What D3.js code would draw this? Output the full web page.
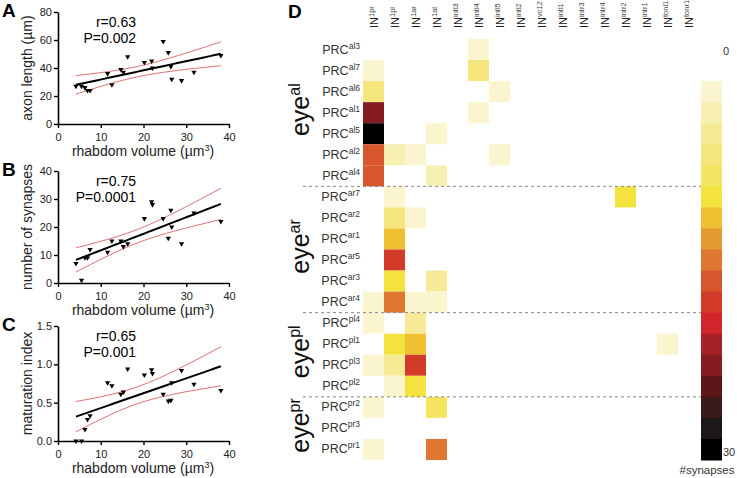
<!DOCTYPE html>
<html>
<head>
<meta charset="utf-8">
<title></title>
<script src="https://cdnjs.cloudflare.com/ajax/libs/d3/7.8.5/d3.min.js"></script>
<style>
body { margin: 0; background: #fff; }
svg { font-family: "Liberation Sans", Arial, Helvetica, sans-serif; }
</style>
</head>
<body>
<div id="chart"></div>
<script>
// rhabdom volume of each PRC (um3), same x for panels A-C
var volume       = [4.2, 5.5, 6.3, 6.9, 7.5, 11.6, 12.6, 14.7, 15.3, 16.3, 20.2, 21.9, 22.1, 24.6, 25.8, 26.4, 26.6, 28.9, 31.8, 38.1];
var axonLength   = [27, 27, 26, 24, 24, 36, 28, 39, 37, 48, 44, 45, 40, 59, 51, 41, 32, 31, 37, 49];
var synapseCount = [7, 1, 9, 9, 12, 11, 15, 15, 13, 14, 23, 29, 28, 23, 16, 26, 20, 14, 25, 22];
var maturation   = [0.0, 0.0, 0.15, 0.28, 0.33, 0.76, 0.72, 0.61, 0.64, 0.94, 0.86, 0.93, 0.88, 0.61, 0.52, 0.53, 0.76, 0.92, 0.74, 0.66];

var volumeTicks     = [0, 10, 20, 30, 40];
var axonTicks       = [0, 20, 40, 60, 80];
var synapseTicks    = [0, 10, 20, 30, 40];
var maturationTicks = [0, 0.5, 1.0, 1.5];

var panelLetters = ["A", "B", "C"];
var yTitles      = ["axon length (\u00b5m)", "number of synapses", "maturation index"];
var rLabels      = ["r=0.63", "r=0.75", "r=0.65"];
var pLabels      = ["P=0.002", "P=0.0001", "P=0.001"];

// panel D
var eyeGroups = ["al", "ar", "pl", "pr"];
var prcRows = ["al3", "al7", "al6", "al1", "al5", "al2", "al4",
               "ar7", "ar2", "ar1", "ar5", "ar3", "ar4",
               "pl4", "pl1", "pl3", "pl2",
               "pr2", "pr3", "pr1"];
var inColumns = ["1pr", "1pl", "1ar", "1al", "intl3", "intl4", "intl5", "intl2",
                 "vc12", "intl1", "intr3", "intr4", "intr2", "intr1", "tonl1", "tonr1"];
// synapses PRC (row) -> IN (column)
var synapses = [
  [ 0, 0, 0, 0, 0, 2, 0, 0, 0, 0, 0, 0, 0, 0, 0, 0],
  [ 1, 0, 0, 0, 0, 7, 0, 0, 0, 0, 0, 0, 0, 0, 0, 0],
  [ 7, 0, 0, 0, 0, 0, 1, 0, 0, 0, 0, 0, 0, 0, 0, 0],
  [23, 0, 0, 0, 0, 1, 0, 0, 0, 0, 0, 0, 0, 0, 0, 0],
  [30, 0, 0, 1, 0, 0, 0, 0, 0, 0, 0, 0, 0, 0, 0, 0],
  [16, 3, 1, 0, 0, 0, 1, 0, 0, 0, 0, 0, 0, 0, 0, 0],
  [16, 0, 0, 3, 0, 0, 0, 0, 0, 0, 0, 0, 0, 0, 0, 0],
  [ 0, 1, 0, 0, 0, 0, 0, 0, 0, 0, 0, 0, 9, 0, 0, 0],
  [ 0, 7, 2, 0, 0, 0, 0, 0, 0, 0, 0, 0, 0, 0, 0, 0],
  [ 0,11, 0, 0, 0, 0, 0, 0, 0, 0, 0, 0, 0, 0, 0, 0],
  [ 0,17, 0, 0, 0, 0, 0, 0, 0, 0, 0, 0, 0, 0, 0, 0],
  [ 0,10, 0, 4, 0, 0, 0, 0, 0, 0, 0, 0, 0, 0, 0, 0],
  [ 1,14, 1, 1, 0, 0, 0, 0, 0, 0, 0, 0, 0, 0, 0, 0],
  [ 1, 0, 4, 0, 0, 0, 0, 0, 0, 0, 0, 0, 0, 0, 0, 0],
  [ 0,10,11, 0, 0, 0, 0, 0, 0, 0, 0, 0, 0, 0, 1, 0],
  [ 1, 4,17, 0, 0, 0, 0, 0, 0, 0, 0, 0, 0, 0, 0, 0],
  [ 0, 2,10, 0, 0, 0, 0, 0, 0, 0, 0, 0, 0, 0, 0, 0],
  [ 1, 0, 0, 8, 0, 0, 0, 0, 0, 0, 0, 0, 0, 0, 0, 0],
  [ 0, 0, 0, 0, 0, 0, 0, 0, 0, 0, 0, 0, 0, 0, 0, 0],
  [ 2, 0, 0,14, 0, 0, 0, 0, 0, 0, 0, 0, 0, 0, 0, 0]
];
var colorSteps = ["#fbf5cf", "#f8efb2", "#f6ea97", "#f4e67c", "#f3e462", "#f4e33e",
                  "#efc132", "#e49a30", "#df7730", "#d8562c", "#d23b2a", "#ce262a",
                  "#a72228", "#841c21", "#5d1518", "#3b1a1a", "#1e1717", "#000000"];
var colorLabels = ["0", "30"];

var svg = d3.select("#chart").append("svg")
            .attr("width", 737)
            .attr("height", 478);

var xScale = d3.scaleLinear().domain([0, 40]).range([58, 229]);

var panels = [
  {values: axonLength,   ticks: axonTicks,       fmt: d3.format("d"),   top: 12,  bottom: 124},
  {values: synapseCount, ticks: synapseTicks,    fmt: d3.format("d"),   top: 171, bottom: 283},
  {values: maturation,   ticks: maturationTicks, fmt: d3.format(".1f"), top: 326, bottom: 441}
];

// least squares line with 95% confidence band
function fitLine(xs, ys) {
  var n = xs.length, mx = d3.mean(xs), my = d3.mean(ys);
  var sxx = d3.sum(xs, (x) => (x - mx) * (x - mx));
  var sxy = d3.sum(xs, (x, i) => (x - mx) * (ys[i] - my));
  var b = sxy / sxx, a = my - b * mx;
  var s = Math.sqrt(d3.sum(xs, (x, i) => Math.pow(ys[i] - (a + b * x), 2)) / (n - 2));
  var t = 2.101;
  var lo = d3.min(xs), hi = d3.max(xs);
  return d3.range(41).map((k) => {
    var x = lo + (hi - lo) * k / 40;
    var yh = a + b * x;
    var h = t * s * Math.sqrt(1 / n + (x - mx) * (x - mx) / sxx);
    return {x: x, y: yh, lo: yh - h, hi: yh + h};
  });
}

panels.forEach((p, k) => {
  var yScale = d3.scaleLinear()
                 .domain([p.ticks[0], p.ticks[p.ticks.length - 1]])
                 .range([p.bottom, p.top]);
  var g = svg.append("g");

  var fit = fitLine(volume, p.values);
  var band = (key) => d3.line().x((d) => xScale(d.x)).y((d) => yScale(d[key]));
  ["lo", "hi"].forEach((key) => {
    g.append("path")
     .attr("d", band(key)(fit))
     .attr("fill", "none")
     .attr("stroke", "#de6f6f")
     .attr("stroke-width", 1);
  });
  g.append("path")
   .attr("d", band("y")(fit))
   .attr("fill", "none")
   .attr("stroke", "#000")
   .attr("stroke-width", 2);

  g.selectAll(".pt")
   .data(p.values)
   .enter().append("path")
   .attr("d", d3.symbol().type(d3.symbolTriangle).size(12))
   .attr("transform", (d, i) => "translate(" + xScale(volume[i]) + "," + yScale(d) + ") rotate(180)")
   .attr("fill", "#000");

  var yAxis = g.append("g")
               .attr("transform", "translate(58,0)")
               .call(d3.axisLeft(yScale).tickValues(p.ticks).tickFormat(p.fmt)
                       .tickSize(4).tickSizeOuter(0).tickPadding(2));
  var xAxis = g.append("g")
               .attr("transform", "translate(0," + p.bottom + ")")
               .call(d3.axisBottom(xScale).tickValues(volumeTicks)
                       .tickSize(4).tickSizeOuter(0).tickPadding(5));
  [yAxis, xAxis].forEach((ax) => {
    ax.select(".domain").attr("stroke-width", 1.6);
    ax.selectAll(".tick line").attr("stroke-width", 1.4);
    ax.selectAll("text").attr("font-size", "11px").attr("fill", "#222")
      .attr("font-family", "Liberation Sans, Arial, sans-serif");
  });

  var xt = g.append("text")
            .attr("x", 143)
            .attr("y", p.bottom + 32)
            .attr("text-anchor", "middle")
            .attr("font-size", "14px")
            .attr("fill", "#222")
            .text("rhabdom volume (\u00b5m");
  xt.append("tspan").attr("dy", -5).attr("font-size", "9px").text("3");
  xt.append("tspan").attr("dy", 5).text(")");

  g.append("text")
   .attr("transform", "translate(32," + ((p.top + p.bottom) / 2) + ") rotate(-90)")
   .attr("text-anchor", "middle")
   .attr("font-size", "14px")
   .attr("fill", "#222")
   .text(yTitles[k]);

  g.append("text")
   .attr("x", 136).attr("y", p.top + 15)
   .attr("text-anchor", "end")
   .attr("font-size", "14px")
   .text(rLabels[k]);
  g.append("text")
   .attr("x", 136).attr("y", p.top + 31)
   .attr("text-anchor", "end")
   .attr("font-size", "14px")
   .text(pLabels[k]);

  g.append("text")
   .attr("x", 2).attr("y", p.top + 5)
   .attr("font-size", "19px")
   .attr("font-weight", "bold")
   .text(panelLetters[k]);
});

// ---- panel D heatmap
var colX = d3.scaleBand().domain(inColumns).range([363, 699]);
var rowY = d3.scaleBand().domain(prcRows).range([39, 460]);
var color = d3.scaleQuantize().domain([0.5, 30]).range(colorSteps);

svg.append("text")
   .attr("x", 288).attr("y", 18)
   .attr("font-size", "19px")
   .attr("font-weight", "bold")
   .text("D");

var cells = [];
synapses.forEach((row, i) => row.forEach((v, j) => {
  if (v > 0) cells.push({row: prcRows[i], col: inColumns[j], v: v});
}));
svg.append("g").selectAll("rect")
   .data(cells)
   .enter().append("rect")
   .attr("x", (d) => colX(d.col))
   .attr("y", (d) => rowY(d.row))
   .attr("width", colX.bandwidth())
   .attr("height", rowY.bandwidth())
   .attr("fill", (d) => color(d.v));

// column labels
svg.append("g").selectAll("text")
   .data(inColumns)
   .enter().append("text")
   .attr("transform", (d) => "translate(" + (colX(d) + colX.bandwidth() / 2) + ",28) rotate(-90)")
   .attr("dy", "0.38em")
   .attr("font-size", "11px")
   .style("fill", "#222")
   .each(function (d) {
     var t = d3.select(this);
     t.append("tspan").text("IN");
     t.append("tspan").attr("dy", "-4").attr("font-size", "7.5px").style("fill", "#444").text(d);
   });

// row labels
svg.append("g").selectAll("text")
   .data(prcRows)
   .enter().append("text")
   .attr("x", 360)
   .attr("y", (d) => rowY(d) + rowY.bandwidth() / 2 + 4)
   .attr("text-anchor", "end")
   .attr("font-size", "12.5px")
   .style("fill", "#333")
   .each(function (d) {
     var t = d3.select(this);
     t.append("tspan").text("PRC");
     t.append("tspan").attr("dy", "-5").attr("font-size", "8.5px").text(d);
   });

// eye groups
eyeGroups.forEach((grp) => {
  var rows = prcRows.filter((r) => r.indexOf(grp) === 0);
  var y0 = rowY(rows[0]), y1 = rowY(rows[rows.length - 1]) + rowY.bandwidth();
  var t = svg.append("text")
             .attr("transform", "translate(309," + ((y0 + y1) / 2 - 3) + ") rotate(-90)")
             .attr("text-anchor", "middle")
             .attr("font-size", "25px")
             .style("fill", "#111");
  t.append("tspan").text("eye");
  t.append("tspan").attr("dy", "-9").attr("font-size", "16px").text(grp);
  if (y0 > 40) {
    svg.append("line")
       .attr("x1", 303).attr("x2", 701)
       .attr("y1", y0).attr("y2", y0)
       .attr("stroke", "#888")
       .attr("stroke-width", 1)
       .attr("stroke-dasharray", "3,3");
  }
});

// colour key
var keyY = d3.scaleBand().domain(d3.range(colorSteps.length)).range([81, 460]);
svg.append("g").selectAll("rect")
   .data(colorSteps)
   .enter().append("rect")
   .attr("x", 701)
   .attr("y", (d, i) => keyY(i))
   .attr("width", 21)
   .attr("height", keyY.bandwidth() + 0.5)
   .attr("fill", (d) => d);

svg.append("text").attr("x", 723).attr("y", 55)
   .attr("font-size", "11px").style("fill", "#333").text(colorLabels[0]);
svg.append("text").attr("x", 723).attr("y", 456)
   .attr("font-size", "11px").style("fill", "#333").text(colorLabels[1]);
svg.append("text").attr("x", 707).attr("y", 474)
   .attr("text-anchor", "middle")
   .attr("font-size", "11.5px").style("fill", "#333").text("#synapses");
</script>
</body>
</html>
